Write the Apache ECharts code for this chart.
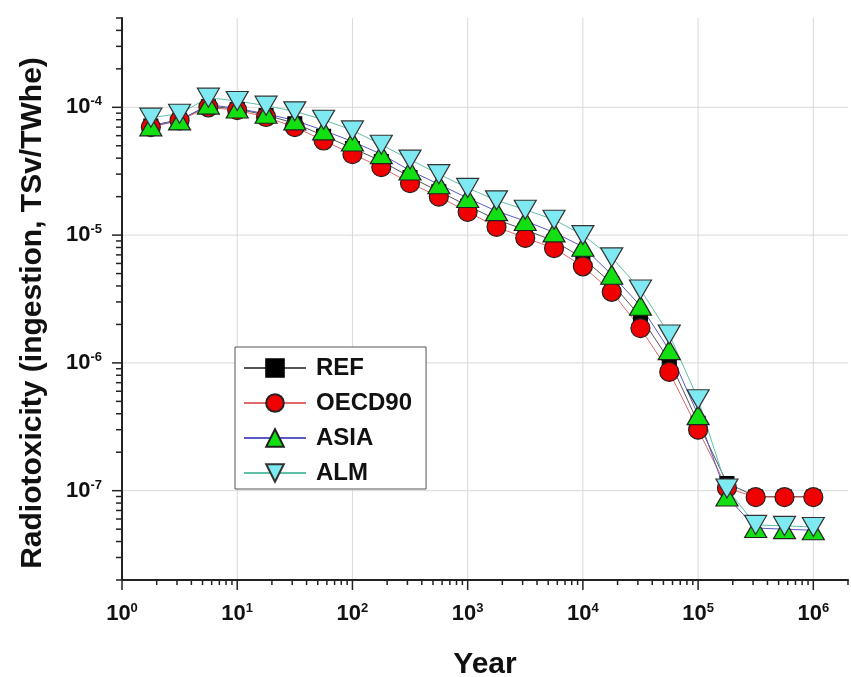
<!DOCTYPE html>
<html><head><meta charset="utf-8">
<script src="https://cdn.jsdelivr.net/npm/echarts@6/dist/echarts.min.js"></script>
<style>html,body{margin:0;padding:0;background:#fff}#c{width:851px;height:677px}</style>
</head><body><div id="c"></div>
<script>
// ---- data ----
const years = [1.78, 3.16, 5.62, 10, 17.8, 31.6, 56.2, 100, 178, 316, 562, 1000,
  1780, 3160, 5620, 1e4, 1.78e4, 3.16e4, 5.62e4, 1e5, 1.78e5, 3.16e5, 5.62e5, 1e6];
const refVals = [7.2e-5, 8.0e-5, 1.02e-4, 9.7e-5, 8.7e-5, 7.5e-5, 6.0e-5, 4.8e-5, 3.8e-5, 2.85e-5, 2.2e-5, 1.7e-5,
  1.32e-5, 1.1e-5, 9.0e-6, 6.6e-6, 4.2e-6, 2.3e-6, 1.05e-6, 3.4e-7, 1.15e-7, 9.0e-8, 9.0e-8, 9.0e-8];
const oecdVals = [7.0e-5, 7.9e-5, 1.0e-4, 9.5e-5, 8.4e-5, 7.0e-5, 5.5e-5, 4.3e-5, 3.4e-5, 2.55e-5, 2.0e-5, 1.52e-5,
  1.16e-5, 9.5e-6, 7.9e-6, 5.7e-6, 3.6e-6, 1.87e-6, 8.5e-7, 3.0e-7, 1.05e-7, 8.9e-8, 8.9e-8, 8.9e-8];
const asiaVals = [7.1e-5, 7.9e-5, 1.05e-4, 9.8e-5, 8.9e-5, 7.9e-5, 6.6e-5, 5.4e-5, 4.3e-5, 3.2e-5, 2.5e-5, 1.95e-5,
  1.54e-5, 1.29e-5, 1.05e-5, 8.1e-6, 4.9e-6, 2.8e-6, 1.26e-6, 3.9e-7, 9.0e-8, 5.1e-8, 5.0e-8, 4.9e-8];
const almVals = [8.3e-5, 8.9e-5, 1.19e-4, 1.12e-4, 1.03e-4, 9.3e-5, 8.0e-5, 6.6e-5, 5.1e-5, 3.9e-5, 3.0e-5, 2.34e-5,
  1.87e-5, 1.58e-5, 1.32e-5, 1.0e-5, 6.7e-6, 3.75e-6, 1.67e-6, 5.2e-7, 1.04e-7, 5.4e-8, 5.3e-8, 5.2e-8];
const seriesNames = ['REF', 'OECD90', 'ASIA', 'ALM'];

const xMin = 1, xMax = 2e6, yMin = 2e-8, yMax = 5e-4;
const xMajorTicks = [1, 10, 100, 1e3, 1e4, 1e5, 1e6];
const yMajorTicks = [1e-8, 1e-7, 1e-6, 1e-5, 1e-4];
const minorMult = [2, 3, 4, 5, 6, 7, 8, 9];

// ---- helpers ----
function minorOf(majors, lo, hi) {
  const out = [];
  majors.forEach(d => minorMult.forEach(m => { const v = m * d; if (v >= lo * 0.999 && v <= hi * 1.001) out.push(v); }));
  return out;
}
const xMinorTicks = minorOf(xMajorTicks, xMin, xMax);
const yMinorTicks = minorOf(yMajorTicks, yMin, yMax);
const yMajorIn = yMajorTicks.filter(v => v >= yMin && v <= yMax);

const FONT = '"Liberation Sans", Arial, sans-serif';
function powLabel(v) {
  const e = Math.round(Math.log10(v));
  if (Math.abs(v - Math.pow(10, e)) / v > 1e-6) return '';
  return '{b|10}{s|' + e + '}';
}
const rich = {
  b: { fontSize: 22, fontWeight: 'bold', fontFamily: FONT, color: '#111', lineHeight: 24 },
  s: { fontSize: 13, fontWeight: 'bold', fontFamily: FONT, color: '#111', verticalAlign: 'top', lineHeight: 13 }
};

function tickSeries(vals, axis, len) {
  return {
    type: 'custom', silent: true, clip: false, z: 6,
    data: vals.map(v => axis === 'x' ? [v, yMin] : [xMin, v]),
    renderItem: (params, api) => {
      const p = api.coord([api.value(0), api.value(1)]);
      const shape = axis === 'x'
        ? { x1: p[0], y1: p[1], x2: p[0], y2: p[1] + len }
        : { x1: p[0], y1: p[1], x2: p[0] - len, y2: p[1] };
      return { type: 'line', shape, style: { stroke: '#222', lineWidth: 1.5 } };
    }
  };
}
function gridSeries(vals, axis) {
  return {
    type: 'custom', silent: true, clip: false, z: 0,
    data: vals.map(v => axis === 'x' ? [v, yMin] : [xMin, v]),
    renderItem: (params, api) => {
      let a, b;
      if (axis === 'x') { a = api.coord([api.value(0), yMin]); b = api.coord([api.value(0), yMax]); }
      else { a = api.coord([xMin, api.value(1)]); b = api.coord([xMax, api.value(1)]); }
      return { type: 'line', shape: { x1: a[0], y1: a[1], x2: b[0], y2: b[1] }, style: { stroke: '#d9d9d9', lineWidth: 1 } };
    }
  };
}
function pairs(vals) { return years.map((x, i) => [x, vals[i]]); }

const chart = echarts.init(document.getElementById('c'), null, { renderer: 'canvas' });
chart.setOption({
  animation: false,
  backgroundColor: '#fff',
  grid: { left: 122, right: 3, top: 18, bottom: 97, outerBoundsMode: 'none' },
  legend: {
    data: seriesNames, orient: 'vertical', left: 235, top: 347,
    padding: [9, 14, 4, 8], itemGap: 11, itemWidth: 62, itemHeight: 22,
    borderColor: '#555', borderWidth: 1, backgroundColor: '#fff',
    textStyle: { fontSize: 24, fontWeight: 'bold', fontFamily: FONT, color: '#111', lineHeight: 22, padding: [0, 0, 0, 5] }
  },
  xAxis: {
    type: 'log', logBase: 10, min: xMin, max: xMax,
    name: 'Year', nameLocation: 'middle', nameGap: 70,
    nameTextStyle: { fontSize: 30, fontWeight: 'bold', fontFamily: FONT, color: '#111' },
    axisLine: { show: true, lineStyle: { color: '#222', width: 2 } },
    axisTick: { show: false }, minorTick: { show: false },
    splitLine: { show: false },
    axisLabel: { margin: 22, formatter: powLabel, rich: rich, showMinLabel: true, showMaxLabel: false }
  },
  yAxis: {
    type: 'log', logBase: 10, min: yMin, max: yMax,
    name: 'Radiotoxicity (ingestion, TSv/TWhe)', nameLocation: 'middle', nameGap: 74, nameRotate: 90,
    nameTextStyle: { fontSize: 30, fontWeight: 'bold', fontFamily: FONT, color: '#111', padding: [0, 28, 0, 0] },
    axisLine: { show: true, lineStyle: { color: '#222', width: 2 } },
    axisTick: { show: false }, minorTick: { show: false },
    splitLine: { show: false },
    axisLabel: { margin: 20, formatter: powLabel, rich: rich, showMinLabel: false, showMaxLabel: false }
  },
  series: [
    gridSeries(xMajorTicks.slice(1), 'x'),
    gridSeries(yMajorIn, 'y'),
    tickSeries(xMajorTicks, 'x', 10),
    tickSeries(xMinorTicks, 'x', 5),
    tickSeries(yMajorIn, 'y', 10),
    tickSeries(yMinorTicks, 'y', 6),
    { name: 'REF', type: 'line', data: pairs(refVals), symbol: 'rect', symbolSize: [14, 13],
      itemStyle: { color: '#000', borderColor: '#000', borderWidth: 1 }, lineStyle: { color: '#555', width: 1 }, z: 2 },
    { name: 'OECD90', type: 'line', data: pairs(oecdVals), symbol: 'circle', symbolSize: 19,
      itemStyle: { color: '#f00000', borderColor: '#222', borderWidth: 1.2 }, lineStyle: { color: '#e06a6a', width: 1 }, z: 2 },
    { name: 'ASIA', type: 'line', data: pairs(asiaVals), symbol: 'triangle', symbolSize: [22, 19],
      itemStyle: { color: '#12e012', borderColor: '#222', borderWidth: 1.2 }, lineStyle: { color: '#5a5ac8', width: 1 }, z: 2 },
    { name: 'ALM', type: 'line', data: pairs(almVals), symbol: 'triangle', symbolRotate: 180, symbolSize: [22, 19],
      itemStyle: { color: '#7fe9f2', borderColor: '#333', borderWidth: 1.2 }, lineStyle: { color: '#5fc0a8', width: 1 }, z: 2 }
  ]
});
</script></body></html>
